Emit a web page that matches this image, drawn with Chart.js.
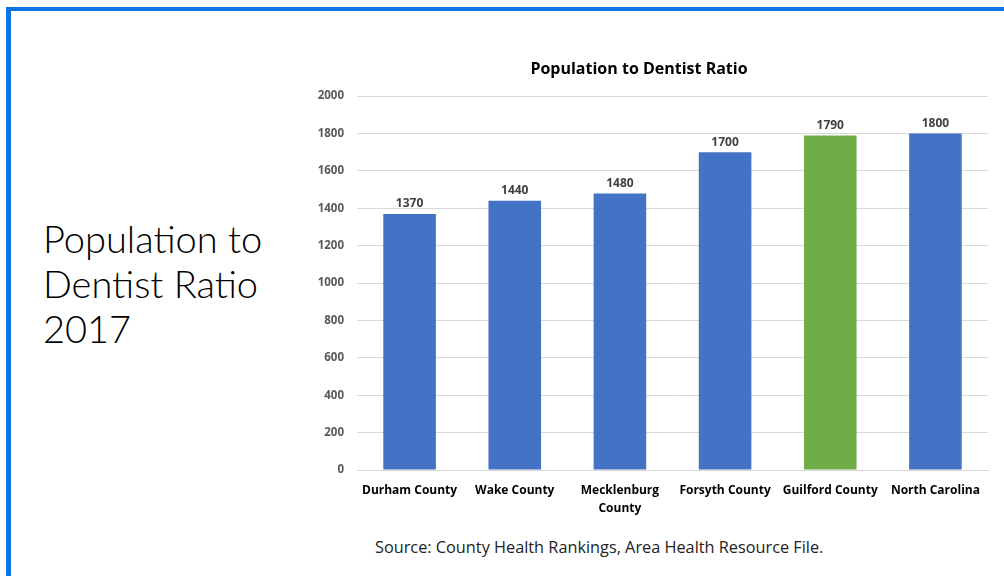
<!DOCTYPE html>
<html>
<head>
<meta charset="utf-8">
<script src="https://cdn.jsdelivr.net/npm/chart.js@4"></script>
<style>
    html, body { margin: 0; padding: 0; background: #fff; }
    body { width: 1004px; height: 576px; position: relative; overflow: hidden; font-family: 'Open Sans', sans-serif; }
    .frame { position: absolute; left: 6px; top: 7px; width: 1010px; height: 600px; border-left: 5px solid #0a74e6; border-top: 4px solid #0a74e6; box-sizing: border-box; }
    .side { position: absolute; left: 43px; top: 216px; font-family: Lato, sans-serif; font-size: 38px; line-height: 45px; font-weight: 300; color: #000; }
    .source { position: absolute; left: 375px; top: 536px; font-size: 16.3px; color: #222; }
    .wrap { position: absolute; left: 290px; top: 40px; width: 710px; height: 482px; }
</style>
</head>
<body>
<div class="frame"></div>
<div class="side">Population to<br>Dentist Ratio<br>2017</div>
<div class="wrap"><canvas id="dentistChart"></canvas></div>
<div class="source">Source: County Health Rankings, Area Health Resource File.</div>

<script>
    // --- data ---
    var counties = ['Durham County', 'Wake County', ['Mecklenburg', 'County'], 'Forsyth County', 'Guilford County', 'North Carolina'];
    var ratios = [1370, 1440, 1480, 1700, 1790, 1800];
    var barColors = ['#4472C4', '#4472C4', '#4472C4', '#4472C4', '#70AD47', '#4472C4'];
    var yTicks = [0, 200, 400, 600, 800, 1000, 1200, 1400, 1600, 1800, 2000];

    // value labels above each bar
    var valueLabels = {
        id: 'valueLabels',
        afterDatasetsDraw: function (chart) {
            var ctx = chart.ctx;
            var meta = chart.getDatasetMeta(0);
            ctx.save();
            ctx.font = 'bold 12px "Open Sans", sans-serif';
            ctx.fillStyle = '#404040';
            ctx.textAlign = 'center';
            ctx.textBaseline = 'bottom';
            meta.data.forEach(function (bar, i) {
                ctx.fillText(chart.data.datasets[0].data[i], bar.x, bar.y - 4);
            });
            ctx.restore();
        }
    };

    new Chart(document.getElementById('dentistChart'), {
        type: 'bar',
        data: {
            labels: counties,
            datasets: [{
                data: ratios,
                backgroundColor: barColors,
                borderWidth: 0,
                categoryPercentage: 1,
                barPercentage: 0.5
            }]
        },
        options: {
            responsive: true,
            maintainAspectRatio: false,
            animation: false,
            layout: { padding: { top: 0, right: 12, bottom: 0, left: 0 } },
            scales: {
                y: {
                    min: 0,
                    max: 2000,
                    afterBuildTicks: function (axis) { axis.ticks = yTicks.map(function (v) { return { value: v }; }); },
                    afterFit: function (axis) { axis.width = 67; },
                    grid: { color: '#d9d9d9', drawTicks: false },
                    border: { display: false },
                    ticks: {
                        padding: 13,
                        color: '#595959',
                        font: { family: 'Open Sans', size: 11.5, weight: 'bold' },
                        callback: function (v) { return String(v); }
                    }
                },
                x: {
                    grid: { display: false },
                    border: { color: '#d9d9d9' },
                    ticks: { padding: 4, color: '#000', maxRotation: 0, autoSkip: false, font: { family: 'Open Sans', size: 12, weight: 'bold', lineHeight: 1.5 } }
                }
            },
            plugins: {
                legend: { display: false },
                tooltip: { enabled: false },
                title: {
                    display: true,
                    text: 'Population to Dentist Ratio',
                    color: '#000',
                    font: { family: 'Open Sans', size: 16, weight: 'bold' },
                    padding: { top: 20, bottom: 17 }
                }
            }
        },
        plugins: [valueLabels]
    });
</script>
</body>
</html>
